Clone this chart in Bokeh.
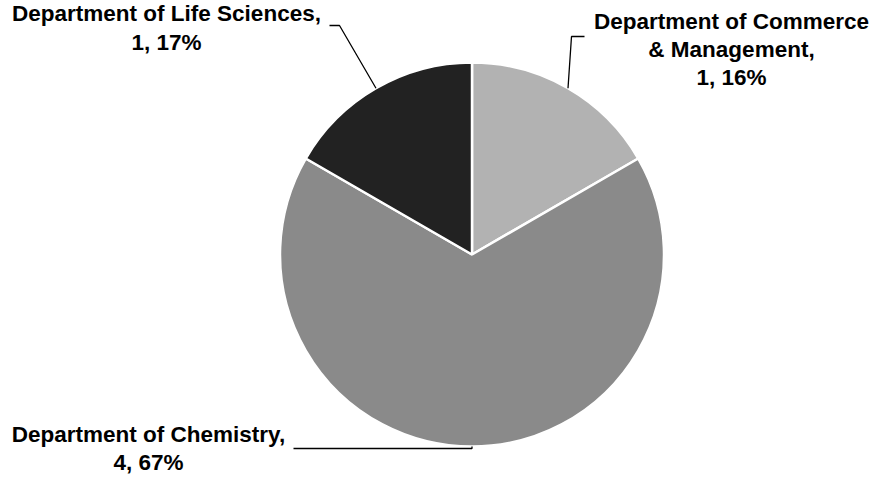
import math
from bokeh.plotting import figure
from bokeh.models import Range1d, ColumnDataSource
from bokeh.core.properties import value
from bokeh.embed import file_html
from bokeh.resources import INLINE

# ---- data ----
departments = ["Department of Commerce & Management", "Department of Chemistry", "Department of Life Sciences"]
name_lines = [["Department of Commerce", "& Management,"], ["Department of Chemistry,"], ["Department of Life Sciences,"]]
counts = [1, 4, 1]
pct_labels = ["16%", "67%", "17%"]
colors = ["#b2b2b2", "#8a8a8a", "#222222"]

# ---- layout (reference-pixel coordinates) ----
W, H = 869, 476
OX, OY = 4, 14          # shift so the whole chart fits the figure
TEXT_FIX = 8            # baseline correction for the svg text renderer
def dx(X): return X - OX
def dy(Y): return (H + OY) - Y

cx, cy, R = dx(475.5), dy(268), 192
label_cx = [735, 152, 170]
label_base = [[43, 71, 99], [456, 484], [35, 64]]
leader_end = [(588, 50), (297, 462), (333, 39)]
leader_elbow = [(575, 50), (475.5, 462), (343, 39)]

p = figure(width=W, height=H, output_backend="svg", toolbar_location=None,
           x_range=Range1d(0, W), y_range=Range1d(0, H), min_border=0)
p.axis.visible = False
p.grid.visible = False
p.outline_line_color = None
p.background_fill_color = "white"
p.border_fill_color = "white"

total = sum(counts)
starts, ends, mids = [], [], []
a = math.pi / 2
for c in counts:
    span = 2 * math.pi * c / total
    starts.append(a)
    ends.append(a - span)
    mids.append(a - span / 2)
    a -= span

src = ColumnDataSource(dict(start=starts, end=ends, color=colors))
p.wedge(x=cx, y=cy, radius=R, start_angle="start", end_angle="end", direction="clock",
        fill_color="color", line_color="white", line_width=2.5, source=src)

# leader lines
for i in range(len(counts)):
    ex = cx + R * math.cos(mids[i])
    ey = cy + R * math.sin(mids[i])
    xs = [dx(leader_end[i][0]), dx(leader_elbow[i][0]), ex]
    ys = [dy(leader_end[i][1]), dy(leader_elbow[i][1]), ey]
    p.line(xs, ys, line_color="black", line_width=1.3)

# labels
tx, ty, tt = [], [], []
for i in range(len(counts)):
    lines = name_lines[i] + [f"{counts[i]}, {pct_labels[i]}"]
    for j, t in enumerate(lines):
        tx.append(dx(label_cx[i]))
        ty.append(dy(label_base[i][j]) + TEXT_FIX)
        tt.append(t)
p.text(x=tx, y=ty, text=tt, text_align="center", text_baseline="alphabetic",
       text_font=value("Liberation Sans"), text_font_style="bold",
       text_font_size="22.5px", text_color="black")

open("out.html", "w").write(file_html(p, INLINE))
